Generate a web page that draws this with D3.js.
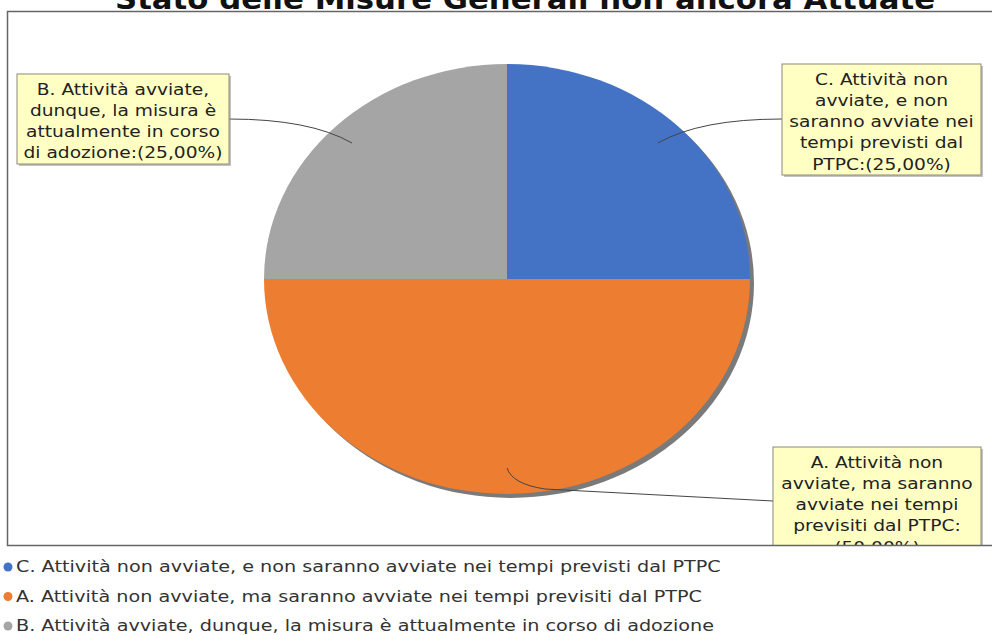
<!doctype html>
<html lang="it">
<head>
<meta charset="utf-8">
<title>Stato delle Misure Generali non ancora Attuate</title>
<script src="https://d3js.org/d3.v7.min.js"></script>
<style>
  body { margin: 0; background: #fff; }
  text { font-family: "DejaVu Sans", sans-serif; }
</style>
</head>
<body>
<div id="chart"></div>
<script>
// data
var categories = [
  "C. Attività non avviate, e non saranno avviate nei tempi previsti dal PTPC",
  "A. Attività non avviate, ma saranno avviate nei tempi previsiti dal PTPC",
  "B. Attività avviate, dunque, la misura è attualmente in corso di adozione"
];
var values = [25, 50, 25];
var colors = ["#4472c4", "#ed7d31", "#a5a5a5"];
var labelLines = [
  ["C. Attività non", "avviate, e non", "saranno avviate nei", "tempi previsti dal", "PTPC:(25,00%)"],
  ["A. Attività non", "avviate, ma saranno", "avviate nei tempi", "previsiti dal PTPC:", "(50,00%)"],
  ["B. Attività avviate,", "dunque, la misura è", "attualmente in corso", "di adozione:(25,00%)"]
];
var title = "Stato delle Misure Generali non ancora Attuate";

var width = 992, height = 635;
var svg = d3.select("#chart").append("svg")
    .attr("width", width)
    .attr("height", height);

// title (clipped at the top, as in the picture)
svg.append("text")
    .attr("x", 525)
    .attr("y", 9)
    .attr("text-anchor", "middle")
    .style("font-weight", "bold")
    .style("font-size", "28px")
    .attr("textLength", 820)
    .attr("lengthAdjust", "spacingAndGlyphs")
    .attr("fill", "#111")
    .text(title);

// plot frame
var frame = {x: 7.5, y: 11.5, w: 1000, h: 534};
svg.append("clipPath").attr("id", "plotclip")
  .append("rect")
    .attr("x", frame.x).attr("y", frame.y)
    .attr("width", frame.w).attr("height", frame.h);

var plot = svg.append("g").attr("clip-path", "url(#plotclip)");

// pie (elliptical)
var cx = 507, cy = 279, rx = 243, ry = 215;
var pie = d3.pie().sort(null).value(function(d) { return d; });
var arcs = pie(values);
var arc = d3.arc().innerRadius(0).outerRadius(1);

plot.append("ellipse")
    .attr("cx", cx + 4).attr("cy", cy + 4)
    .attr("rx", rx).attr("ry", ry)
    .attr("fill", "#7a7a7a");

plot.append("g")
    .attr("transform", "translate(" + cx + "," + cy + ") scale(" + rx + "," + ry + ")")
  .selectAll("path")
  .data(arcs)
  .enter()
  .append("path")
    .attr("d", arc)
    .attr("fill", function(d, i) { return colors[i]; });

// leader lines
var leaders = [
  "M782,119 Q700,119 658,143",
  "M507,468 Q512,484 545,489 L773,501",
  "M229,119 Q310,119 352,143"
];
plot.selectAll("path.leader")
  .data(leaders)
  .enter()
  .append("path")
    .attr("class", "leader")
    .attr("d", function(d) { return d; })
    .attr("fill", "none")
    .attr("stroke", "#444")
    .attr("stroke-width", 1);

// label boxes
var boxes = [
  {x: 782, y: 64, w: 199, h: 111},
  {x: 773, y: 447, w: 208, h: 111},
  {x: 17, y: 74, w: 212, h: 90}
];
var lineH = 21.3, labelScale = 1.13;
boxes.forEach(function(b, i) {
  var g = plot.append("g");
  g.append("rect")
      .attr("x", b.x + 2).attr("y", b.y + 2)
      .attr("width", b.w).attr("height", b.h)
      .attr("fill", "#9a9a9a").attr("opacity", 0.6);
  g.append("rect")
      .attr("x", b.x).attr("y", b.y)
      .attr("width", b.w).attr("height", b.h)
      .attr("fill", "#ffffc4")
      .attr("stroke", "#8a8a7a")
      .attr("stroke-width", 1);
  g.selectAll("text")
    .data(labelLines[i])
    .enter()
    .append("text")
      .attr("transform", function(d, j) {
        return "translate(" + (b.x + b.w / 2) + "," + (b.y + 20.5 + j * lineH) + ") scale(" + labelScale + ",1)";
      })
      .attr("text-anchor", "middle")
      .style("font-size", "16.5px")
      .attr("fill", "#222")
      .text(function(d) { return d; });
});

svg.append("rect")
    .attr("x", frame.x).attr("y", frame.y)
    .attr("width", frame.w).attr("height", frame.h)
    .attr("fill", "none")
    .attr("stroke", "#666")
    .attr("stroke-width", 1.5);

// legend
var legend = svg.append("g").selectAll("g")
  .data(categories)
  .enter()
  .append("g")
    .attr("transform", function(d, i) { return "translate(8," + (567 + i * 29.5) + ")"; });

legend.append("circle")
    .attr("r", 4.5)
    .attr("fill", function(d, i) { return colors[i]; });

legend.append("text")
    .attr("transform", "translate(8,5) scale(1.24,1)")
    .style("font-size", "15.5px")
    .attr("fill", "#333")
    .text(function(d) { return d; });
</script>
</body>
</html>
